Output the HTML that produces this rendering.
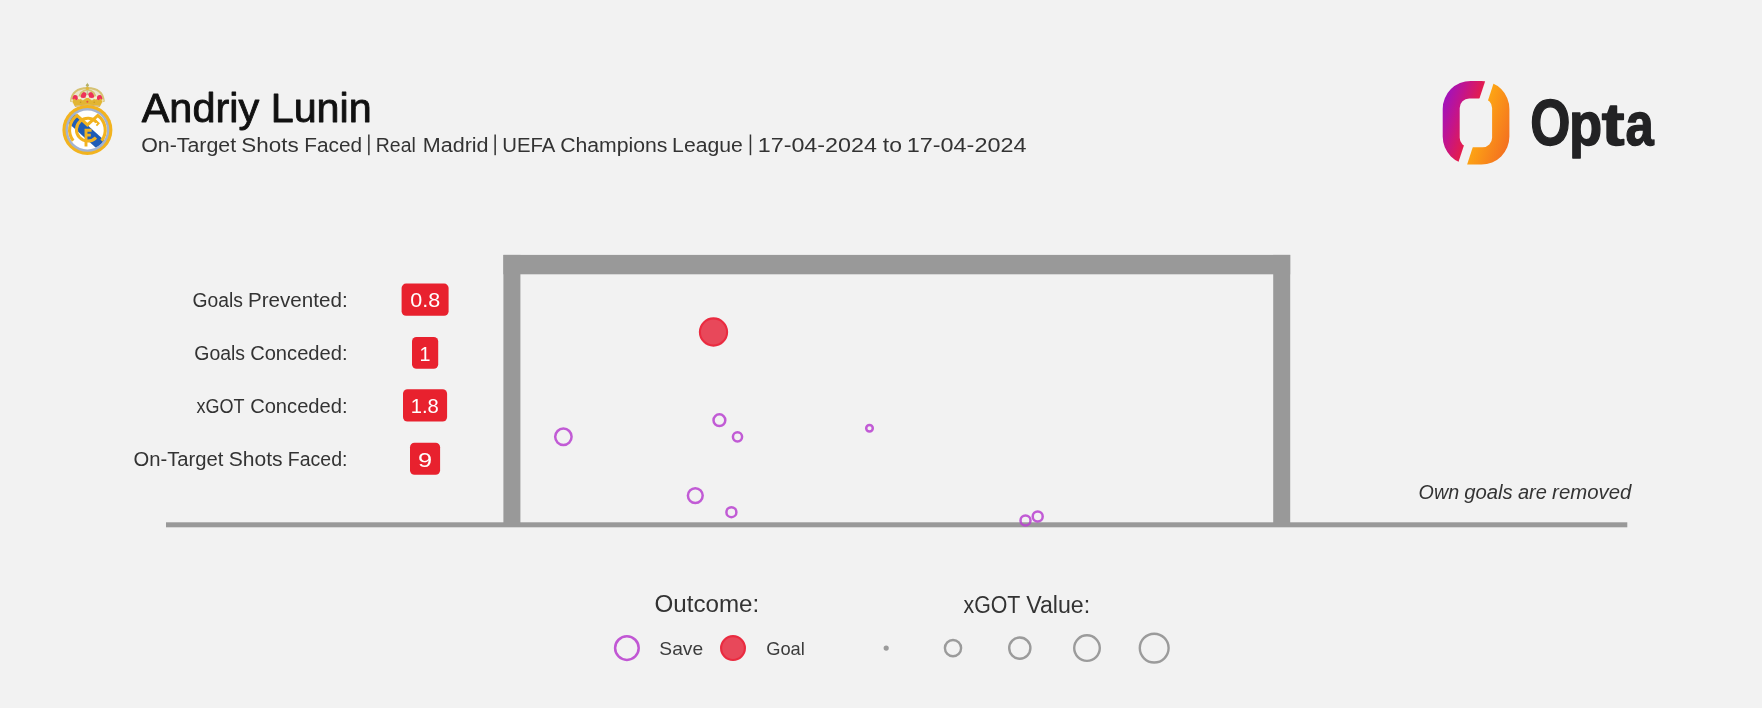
<!DOCTYPE html>
<html lang="en">
<head>
<meta charset="utf-8">
<title>Andriy Lunin - On-Target Shots Faced</title>
<style>
  html, body { margin: 0; padding: 0; background: #f2f2f2; }
  body { width: 1762px; height: 708px; overflow: hidden; font-family: "Liberation Sans", sans-serif; }
  svg { display: block; position: absolute; left: 0; top: 0; }
  text { font-family: "Liberation Sans", sans-serif; }
  .t { fill: #333333; }
  .w { fill: #ffffff; }
</style>
</head>
<body>
<svg width="1762" height="708" viewBox="0 0 1762 708">
  <defs>
    <linearGradient id="gL" gradientUnits="userSpaceOnUse" x1="4.7" y1="1.6" x2="39.8" y2="13.5">
      <stop offset="0" stop-color="#9c12c4"/>
      <stop offset="0.5" stop-color="#c4148a"/>
      <stop offset="1" stop-color="#e61d48"/>
    </linearGradient>
    <linearGradient id="gR" gradientUnits="userSpaceOnUse" x1="46.4" y1="15.8" x2="80.5" y2="27.4">
      <stop offset="0" stop-color="#fda414"/>
      <stop offset="1" stop-color="#f36d21"/>
    </linearGradient>
    <mask id="idm" maskUnits="userSpaceOnUse" x="0" y="0" width="1762" height="708"><rect x="0" y="0" width="1762" height="708" fill="#ffffff"/></mask>
    <clipPath id="crestClip"><circle cx="87.4" cy="129.9" r="19.5"/></clipPath>
  </defs>

  <rect x="0" y="0" width="1762" height="708" fill="#f2f2f2"/>

  <!-- ===== GOAL FRAME ===== -->
  <g id="goal" fill="#999999">
    <rect x="166" y="522.3" width="1461.3" height="5"/>
    <rect x="503.4" y="254.9" width="786.8" height="19.4"/>
    <rect x="503.4" y="254.9" width="17" height="270"/>
    <rect x="1273.2" y="254.9" width="17" height="270"/>
  </g>

  <!-- ===== SHOTS ===== -->
  <g id="shots" fill="none" stroke="#b942d0" stroke-opacity="0.86" stroke-width="2.5">
    <circle cx="563.4" cy="436.8" r="8.2"/>
    <circle cx="719.4" cy="420.2" r="5.9"/>
    <circle cx="737.5" cy="436.8" r="4.6"/>
    <circle cx="869.5" cy="428.3" r="3.3"/>
    <circle cx="695.3" cy="495.6" r="7.4"/>
    <circle cx="731.4" cy="512.2" r="5.0"/>
    <circle cx="1025.5" cy="520.5" r="5.0"/>
    <circle cx="1037.7" cy="516.5" r="5.0"/>
  </g>
  <circle cx="713.5" cy="332.0" r="13.6" fill="#e8485a" stroke="#ea2b40" stroke-width="2.1"/>

  <!-- ===== STAT BADGES ===== -->
  <g id="badges" fill="#e8212e">
    <rect x="401.6" y="283.6" width="47" height="32.2" rx="4.5"/>
    <rect x="412" y="337" width="26.2" height="31.8" rx="4.5"/>
    <rect x="403.0" y="389.3" width="44.1" height="32.2" rx="4.5"/>
    <rect x="410" y="442.7" width="30.1" height="32.1" rx="4.5"/>
  </g>

  <!-- ===== LEGEND SHAPES ===== -->
  <circle cx="626.9" cy="648.1" r="11.8" fill="none" stroke="#c157d4" stroke-width="2.5"/>
  <circle cx="733" cy="648.1" r="11.9" fill="#e8485a" stroke="#ea2b40" stroke-width="2.2"/>
  <g fill="none" stroke="#9b9b9b" stroke-width="2.4">
    <circle cx="886.2" cy="648.1" r="1.4" fill="#9b9b9b"/>
    <circle cx="953" cy="648.1" r="8.1"/>
    <circle cx="1019.8" cy="648.1" r="10.6"/>
    <circle cx="1087" cy="648.1" r="12.8"/>
    <circle cx="1154.2" cy="648.1" r="14.4"/>
  </g>

  <!-- ===== TEXT ===== -->
  <g id="texts" mask="url(#idm)">
    <!-- TEXT-BEGIN -->
    <text x="141.72" y="121.55" font-size="39.8" stroke="#111111" stroke-width="0.85" stroke-linejoin="round" fill="#111111" textLength="117.43" lengthAdjust="spacingAndGlyphs">Andriy</text>
    <text x="270.73" y="121.55" font-size="39.8" stroke="#111111" stroke-width="0.85" stroke-linejoin="round" fill="#111111" textLength="100.95" lengthAdjust="spacingAndGlyphs">Lunin</text>
    <text x="141.18" y="152.4" font-size="20" fill="#333333" textLength="95.02" lengthAdjust="spacingAndGlyphs">On-Target</text>
    <text x="241.29" y="152.4" font-size="20" fill="#333333" textLength="57.33" lengthAdjust="spacingAndGlyphs">Shots</text>
    <text x="304.22" y="152.4" font-size="20" fill="#333333" textLength="57.81" lengthAdjust="spacingAndGlyphs">Faced</text>
    <text x="375.81" y="152.4" font-size="20" fill="#333333" textLength="39.99" lengthAdjust="spacingAndGlyphs">Real</text>
    <text x="422.69" y="152.4" font-size="20" fill="#333333" textLength="65.91" lengthAdjust="spacingAndGlyphs">Madrid</text>
    <text x="502.29" y="152.4" font-size="20" fill="#333333" textLength="53.11" lengthAdjust="spacingAndGlyphs">UEFA</text>
    <text x="560.18" y="152.4" font-size="20" fill="#333333" textLength="107.25" lengthAdjust="spacingAndGlyphs">Champions</text>
    <text x="672.10" y="152.4" font-size="20" fill="#333333" textLength="70.71" lengthAdjust="spacingAndGlyphs">League</text>
    <text x="757.72" y="152.4" font-size="20" fill="#333333" textLength="119.15" lengthAdjust="spacingAndGlyphs">17-04-2024</text>
    <text x="882.80" y="152.4" font-size="20" fill="#333333" textLength="19.18" lengthAdjust="spacingAndGlyphs">to</text>
    <text x="906.71" y="152.4" font-size="20" fill="#333333" textLength="119.82" lengthAdjust="spacingAndGlyphs">17-04-2024</text>
    <text x="192.46" y="306.8" font-size="20" fill="#333333" textLength="50.43" lengthAdjust="spacingAndGlyphs">Goals</text>
    <text x="247.96" y="306.8" font-size="20" fill="#333333" textLength="99.69" lengthAdjust="spacingAndGlyphs">Prevented:</text>
    <text x="194.33" y="360.2" font-size="20" fill="#333333" textLength="50.76" lengthAdjust="spacingAndGlyphs">Goals</text>
    <text x="250.15" y="360.2" font-size="20" fill="#333333" textLength="97.38" lengthAdjust="spacingAndGlyphs">Conceded:</text>
    <text x="196.57" y="412.8" font-size="20" fill="#333333" textLength="48.05" lengthAdjust="spacingAndGlyphs">xGOT</text>
    <text x="250.15" y="412.8" font-size="20" fill="#333333" textLength="97.38" lengthAdjust="spacingAndGlyphs">Conceded:</text>
    <text x="133.46" y="466.2" font-size="20" fill="#333333" textLength="89.93" lengthAdjust="spacingAndGlyphs">On-Target</text>
    <text x="228.75" y="466.2" font-size="20" fill="#333333" textLength="53.87" lengthAdjust="spacingAndGlyphs">Shots</text>
    <text x="287.80" y="466.2" font-size="20" fill="#333333" textLength="59.62" lengthAdjust="spacingAndGlyphs">Faced:</text>
    <text x="410.22" y="306.9" font-size="21.0" fill="#ffffff" textLength="29.89" lengthAdjust="spacingAndGlyphs">0.8</text>
    <text x="419.43" y="360.5" font-size="21.0" fill="#ffffff" textLength="10.96" lengthAdjust="spacingAndGlyphs">1</text>
    <text x="410.76" y="412.9" font-size="21.0" fill="#ffffff" textLength="28.09" lengthAdjust="spacingAndGlyphs">1.8</text>
    <text x="418.09" y="466.6" font-size="21.0" fill="#ffffff" textLength="14.09" lengthAdjust="spacingAndGlyphs">9</text>
    <text x="1418.58" y="499.1" font-size="20" font-style="italic" fill="#333333" textLength="40.53" lengthAdjust="spacingAndGlyphs">Own</text>
    <text x="1464.31" y="499.1" font-size="20" font-style="italic" fill="#333333" textLength="48.45" lengthAdjust="spacingAndGlyphs">goals</text>
    <text x="1517.95" y="499.1" font-size="20" font-style="italic" fill="#333333" textLength="28.95" lengthAdjust="spacingAndGlyphs">are</text>
    <text x="1552.12" y="499.1" font-size="20" font-style="italic" fill="#333333" textLength="79.17" lengthAdjust="spacingAndGlyphs">removed</text>
    <text x="654.44" y="612.4" font-size="23.3" fill="#333333" textLength="104.76" lengthAdjust="spacingAndGlyphs">Outcome:</text>
    <text x="963.48" y="613.0" font-size="23.3" fill="#333333" textLength="56.93" lengthAdjust="spacingAndGlyphs">xGOT</text>
    <text x="1026.21" y="613.0" font-size="23.3" fill="#333333" textLength="63.95" lengthAdjust="spacingAndGlyphs">Value:</text>
    <text x="659.35" y="654.9" font-size="18.6" fill="#3c3c3c" textLength="43.75" lengthAdjust="spacingAndGlyphs">Save</text>
    <text x="766.16" y="654.9" font-size="18.6" fill="#3c3c3c" textLength="38.67" lengthAdjust="spacingAndGlyphs">Goal</text>
    <text x="1530.31" y="144.9" font-size="64.2" font-weight="bold" stroke="#222224" stroke-width="1.4" stroke-linejoin="round" fill="#222224" textLength="40.17" lengthAdjust="spacingAndGlyphs">O</text>
    <text x="1569.09" y="145.0" font-size="61.5" font-weight="bold" stroke="#222224" stroke-width="1.4" stroke-linejoin="round" fill="#222224" textLength="33.20" lengthAdjust="spacingAndGlyphs">p</text>
    <text x="1601.86" y="145.0" font-size="59.5" font-weight="bold" stroke="#222224" stroke-width="1.4" stroke-linejoin="round" fill="#222224" textLength="22.77" lengthAdjust="spacingAndGlyphs">t</text>
    <text x="1625.61" y="145.0" font-size="61.5" font-weight="bold" stroke="#222224" stroke-width="1.4" stroke-linejoin="round" fill="#222224" textLength="28.24" lengthAdjust="spacingAndGlyphs">a</text>
    <!-- TEXT-END -->
  </g>

<!-- subtitle separators -->
  <g fill="#333333">
    <rect x="368.1" y="134.5" width="1.5" height="20.7"/>
    <rect x="494.4" y="134.5" width="1.5" height="20.7"/>
    <rect x="749.7" y="134.5" width="1.5" height="20.7"/>
  </g>
  <!-- ===== OPTA ICON ===== -->
  <g id="opta-icon">
    <defs>
      <path id="ring" fill-rule="evenodd" d="M28,0 H38.7 A28,28 0 0 1 66.7,28 V55.7 A28,28 0 0 1 38.7,83.7 H28 A28,28 0 0 1 0,55.7 V28 A28,28 0 0 1 28,0 Z
         M26.5,17.5 H39.9 A9.5,9.5 0 0 1 49.4,27 V56.9 A9.5,9.5 0 0 1 39.9,66.4 H26.5 A9.5,9.5 0 0 1 17,56.9 V27 A9.5,9.5 0 0 1 26.5,17.5 Z"/>
      <clipPath id="cl"><polygon points="-5,-5 44.2,-5 12.8,90 -5,90"/></clipPath>
      <clipPath id="cr"><polygon points="53.3,-5 75,-5 75,90 22.3,90"/></clipPath>
    </defs>
    <g transform="translate(1442.7,80.9)">
      <use href="#ring" fill="url(#gL)" clip-path="url(#cl)"/>
      <use href="#ring" fill="url(#gR)" clip-path="url(#cr)"/>
    </g>
  </g>

  <!-- ===== CREST ===== -->
  <g id="crest">
    <!-- crown -->
    <g>
      <path d="M87.4,87.6 C77,87.8 70.6,92.5 70.9,101.4 L74.5,105.6 Q87.4,103.2 100.3,105.6 L103.9,101.4 C104.2,92.5 97.8,87.8 87.4,87.6 Z" fill="#e6dcae" opacity="0.55"/>
      <!-- red cushions -->
      <ellipse cx="75.0" cy="98.0" rx="2.9" ry="3.0" fill="#ee3158"/>
      <ellipse cx="83.2" cy="95.0" rx="3.5" ry="2.9" fill="#ee3158"/>
      <ellipse cx="91.6" cy="95.0" rx="3.5" ry="2.9" fill="#ee3158"/>
      <ellipse cx="99.8" cy="98.0" rx="2.9" ry="3.0" fill="#ee3158"/>
      <!-- arches -->
      <g fill="none" stroke="#d6c273" stroke-width="1.9" stroke-linecap="round">
        <path d="M87.4,88.0 C78.5,88.2 71.8,92 71.0,101"/>
        <path d="M87.4,88.0 C96.3,88.2 103,92 103.8,101"/>
        <path d="M87.4,89.6 C82,90.6 79.6,93.5 79.4,98"/>
        <path d="M87.4,89.6 C92.8,90.6 95.2,93.5 95.4,98"/>
      </g>
      <rect x="86.6" y="88.5" width="1.6" height="8" fill="#c6c09a"/>
      <circle cx="87.4" cy="85.2" r="1.5" fill="#b5b068"/>
      <rect x="86.9" y="82.9" width="1" height="4.6" fill="#b5b068" opacity="0.7"/>
      <circle cx="87.4" cy="88.4" r="1.6" fill="#e3b83a"/>
      <!-- base band -->
      <path d="M72.0,100.4 L74.2,98.4 L76.8,100.6 L79.4,98.0 L82.8,100.6 L87.4,97.2 L92,100.6 L95.4,98.0 L98,100.6 L100.6,98.4 L102.8,100.4 L100.2,105.9 Q87.4,103.4 74.6,105.9 Z" fill="#e2b532"/>
      <path d="M74.6,105.9 Q87.4,103.4 100.2,105.9 L99.6,107 Q87.4,104.4 75.2,107 Z" fill="#c39c4a" opacity="0.75"/>
      <!-- pearls -->
      <circle cx="79.4" cy="97.8" r="1.6" fill="#f7f1d2"/>
      <circle cx="87.4" cy="96.5" r="1.6" fill="#f7f1d2"/>
      <circle cx="95.4" cy="97.8" r="1.6" fill="#f7f1d2"/>
      <circle cx="72.1" cy="100.3" r="1.1" fill="#efe3b0"/>
      <circle cx="102.7" cy="100.3" r="1.1" fill="#efe3b0"/>
      <circle cx="87.4" cy="101.7" r="1.0" fill="#e8503c"/>
      <circle cx="80.6" cy="102.2" r="0.8" fill="#c4962a"/>
      <circle cx="94.2" cy="102.2" r="0.8" fill="#c4962a"/>
    </g>
    <!-- disc -->
    <circle cx="87.4" cy="129.9" r="25" fill="#f2b31f"/>
    <circle cx="87.4" cy="129.9" r="21.9" fill="#a3b3d0"/>
    <circle cx="87.4" cy="129.9" r="19.5" fill="#ffffff"/>
    <!-- blue band -->
    <g clip-path="url(#crestClip)">
      <rect x="57" y="126.3" width="62" height="11.2" fill="#1f5cb6" transform="rotate(42 87.4 129.9)"/>
    </g>
    <!-- M -->
    <path d="M73.2,140.7 A17.8,17.8 0 0 1 77.0,115.45 L87.4,124.9 L97.8,115.45 A17.8,17.8 0 0 1 101.6,140.7" fill="none" stroke="#f2b31f" stroke-width="3.1" stroke-linejoin="miter" stroke-linecap="butt"/>
    <!-- C -->
    <path d="M96.6,122.4 A11.4,11.4 0 1 0 96.0,137.6" fill="none" stroke="#f2b31f" stroke-width="3.0"/>
    <path d="M95.0,120.2 L98.6,123.4 L96.4,125.6" fill="none" stroke="#f2b31f" stroke-width="1.9"/>
    <!-- F -->
    <path d="M86.0,128.9 V146.6 M84.6,130.3 H91.6 M86,135.1 H90.8" fill="none" stroke="#f2b31f" stroke-width="2.9"/>
  </g>
</svg>
</body>
</html>
